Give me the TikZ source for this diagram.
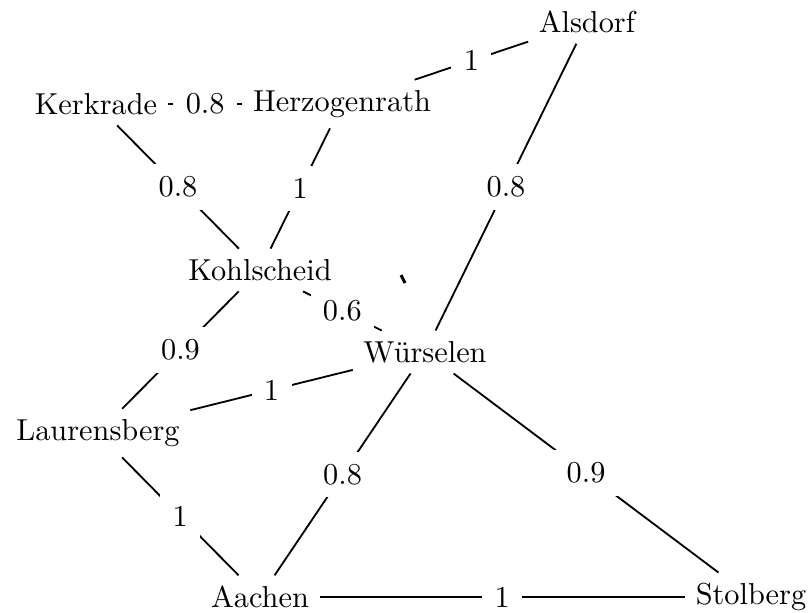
\documentclass[tikz,border=0pt]{standalone}
\begin{document}
\begin{tikzpicture}[x=0.33pt,y=-0.33pt,
  city/.style={inner sep=3.33pt},
  road/.style={line width=0.6pt},
  w/.style={fill=white,inner sep=4.1pt,midway}]
\useasboundingbox (0,0) rectangle (811,612);
\node[city] (als) at (587,22) {Alsdorf};
\node[city] (ker) at (96,104) {Kerkrade};
\node[city] (her) at (342,104) {Herzogenrath};
\node[city] (koh) at (260,270) {Kohlscheid};
\node[city] (wur) at (425,352) {W\"urselen};
\node[city] (lau) at (98,433) {Laurensberg};
\node[city] (aac) at (260,597) {Aachen};
\node[city] (sto) at (751,597) {Stolberg};
\draw[road] (ker) -- (her) node[w] {0.8};
\draw[road] (her) -- (als) node[w] {1};
\draw[road] (ker) -- (koh) node[w] {0.8};
\draw[road] (her) -- (koh) node[w] {1};
\draw[road] (als) -- (wur) node[w] {0.8};
\draw[road] (koh) -- (wur) node[w] {0.6};
\draw[road] (koh) -- (lau) node[w] {0.9};
\draw[road] (lau) -- (wur) node[w] {1};
\draw[road] (lau) -- (aac) node[w] {1};
\draw[road] (wur) -- (aac) node[w] {0.8};
\draw[road] (wur) -- (sto) node[w] {0.9};
\draw[road] (aac) -- (sto) node[w] {1};
\coordinate (t1) at (401,275);
\coordinate (t2) at (405,283);
\draw[line width=1pt] (t1) -- (t2);
\end{tikzpicture}
\end{document}
